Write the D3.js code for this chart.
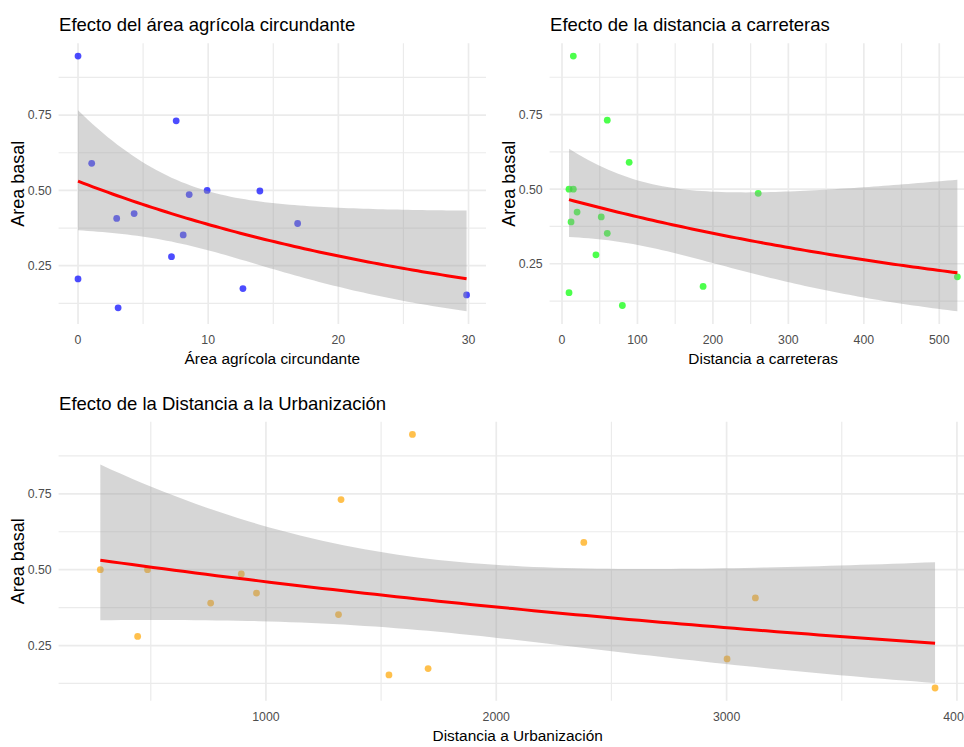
<!DOCTYPE html>
<html>
<head>
<meta charset="utf-8">
<script src="https://cdn.jsdelivr.net/npm/d3@7"></script>
<style>
  html, body { margin: 0; padding: 0; background: #fff; }
  svg { display: block; font-family: "Liberation Sans", Arial, sans-serif; }
</style>
</head>
<body>
<svg id="chart" width="964" height="747"></svg>
<script>
// Área basal by site, paired with each explanatory variable
const agricolaX = [0, 7.54, 1.05, 9.92, 13.97, 8.54, 4.31, 2.97, 16.87, 8.08, 7.18, 0, 12.67, 29.85, 3.08];
const agricolaY = [0.946, 0.731, 0.59, 0.50, 0.498, 0.486, 0.423, 0.407, 0.39, 0.352, 0.28, 0.206, 0.174, 0.153, 0.11];

const carreterasX = [15, 60, 89, 9.3, 15, 260, 20, 52, 12, 60, 45, 524, 9.3, 187, 80];
const carreterasY = [0.946, 0.731, 0.59, 0.50, 0.50, 0.486, 0.423, 0.407, 0.39, 0.352, 0.28, 0.206, 0.153, 0.174, 0.11];

const urbanX = [281, 486, 443, 760, 893, 959, 1326, 1315, 1636, 1534, 1704, 2380, 3125, 3002, 3905];
const urbanY = [0.50, 0.50, 0.28, 0.39, 0.486, 0.423, 0.731, 0.352, 0.946, 0.153, 0.174, 0.59, 0.407, 0.206, 0.11];

const xTicksAgricola = [0, 10, 20, 30];
const xTicksCarreteras = [0, 100, 200, 300, 400, 500];
const xTicksUrban = [1000, 2000, 3000, 4000];
const yTicks = [0.25, 0.50, 0.75];

const titles = ["Efecto del área agrícola circundante", "Efecto de la distancia a carreteras", "Efecto de la Distancia a la Urbanización"];
const xTitles = ["Área agrícola circundante", "Distancia a carreteras", "Distancia a Urbanización"];
const yTitle = "Area basal";

// Gamma GLM with log link, fitted by iteratively reweighted least squares;
// returns a predictor giving the mean and its 95% band on the response scale
function fitGammaLog(xs, ys) {
  const n = xs.length;
  let b0 = Math.log(d3.mean(ys)), b1 = 0;
  for (let it = 0; it < 100; it++) {
    let Sw = 0, Swx = 0, Swxx = 0, Swz = 0, Swxz = 0;
    for (let i = 0; i < n; i++) {
      const eta = b0 + b1 * xs[i], mu = Math.exp(eta);
      const z = eta + (ys[i] - mu) / mu;
      Sw += 1; Swx += xs[i]; Swxx += xs[i] * xs[i]; Swz += z; Swxz += xs[i] * z;
    }
    const det = Sw * Swxx - Swx * Swx;
    b0 = (Swxx * Swz - Swx * Swxz) / det;
    b1 = (Sw * Swxz - Swx * Swz) / det;
  }
  let Sx = 0, Sxx = 0, chi = 0;
  for (let i = 0; i < n; i++) {
    const mu = Math.exp(b0 + b1 * xs[i]);
    Sx += xs[i]; Sxx += xs[i] * xs[i];
    chi += ((ys[i] - mu) / mu) ** 2;
  }
  const phi = chi / (n - 2);
  const det = n * Sxx - Sx * Sx;
  const c00 = phi * Sxx / det, c01 = -phi * Sx / det, c11 = phi * n / det;
  const z = 1.959964;
  return x => {
    const eta = b0 + b1 * x;
    const se = Math.sqrt(c00 + 2 * x * c01 + x * x * c11);
    return { x, y: Math.exp(eta), ymin: Math.exp(eta - z * se), ymax: Math.exp(eta + z * se) };
  };
}

const svg = d3.select("#chart");
const yMinor = [0.125, 0.375, 0.625, 0.875];

function drawPanel(cfg) {
  const { xs, ys, left, right, top, bottom, xTicks, xMinor, title, xTitle, yTitleX, color } = cfg;
  const model = fitGammaLog(xs, ys);
  const [xmin, xmax] = d3.extent(xs);
  const smooth = d3.range(80).map(i => model(xmin + (xmax - xmin) * i / 79));

  const xr = xmax - xmin;
  const x = d3.scaleLinear().domain([xmin - 0.05 * xr, xmax + 0.05 * xr]).range([left, right]);
  const lo = Math.min(d3.min(ys), d3.min(smooth, d => d.ymin));
  const hi = Math.max(d3.max(ys), d3.max(smooth, d => d.ymax));
  const yr = hi - lo;
  const y = d3.scaleLinear().domain([lo - 0.05 * yr, hi + 0.05 * yr]).range([bottom, top]);

  const g = svg.append("g");

  // grid: minor then major
  g.selectAll(null).data(yMinor).join("line")
    .attr("x1", left).attr("x2", right).attr("y1", d => y(d)).attr("y2", d => y(d))
    .attr("stroke", "#ebebeb").attr("stroke-width", 1.2);
  g.selectAll(null).data(xMinor).join("line")
    .attr("y1", top).attr("y2", bottom).attr("x1", d => x(d)).attr("x2", d => x(d))
    .attr("stroke", "#ebebeb").attr("stroke-width", 1.2);
  g.selectAll(null).data(yTicks).join("line")
    .attr("x1", left).attr("x2", right).attr("y1", d => y(d)).attr("y2", d => y(d))
    .attr("stroke", "#ebebeb").attr("stroke-width", 1.7);
  g.selectAll(null).data(xTicks).join("line")
    .attr("y1", top).attr("y2", bottom).attr("x1", d => x(d)).attr("x2", d => x(d))
    .attr("stroke", "#ebebeb").attr("stroke-width", 1.7);

  // observed sites
  g.selectAll(null).data(xs.map((v, i) => [v, ys[i]])).join("circle")
    .attr("cx", d => x(d[0])).attr("cy", d => y(d[1])).attr("r", 3.4)
    .attr("fill", color).attr("fill-opacity", 0.7);

  // confidence ribbon and fitted curve
  g.append("path").datum(smooth)
    .attr("d", d3.area().x(d => x(d.x)).y0(d => y(d.ymin)).y1(d => y(d.ymax)))
    .attr("fill", "#999999").attr("fill-opacity", 0.4);
  g.append("path").datum(smooth)
    .attr("d", d3.line().x(d => x(d.x)).y(d => y(d.y)))
    .attr("fill", "none").attr("stroke", "#ff0000").attr("stroke-width", 3);

  // tick labels
  g.selectAll(null).data(xTicks).join("text")
    .attr("x", d => x(d)).attr("y", bottom + 20).attr("text-anchor", "middle")
    .attr("font-size", 12.3).attr("fill", "#4d4d4d").text(d => d);
  g.selectAll(null).data(yTicks).join("text")
    .attr("x", left - 7).attr("y", d => y(d) + 4.4).attr("text-anchor", "end")
    .attr("font-size", 12.3).attr("fill", "#4d4d4d").text(d => d3.format(".2f")(d));

  // titles
  g.append("text").attr("x", left + 0.5).attr("y", top - 12)
    .attr("font-size", 18.5).attr("fill", "#000").text(title);
  g.append("text").attr("x", (left + right) / 2).attr("y", bottom + 40).attr("text-anchor", "middle")
    .attr("font-size", 15.4).attr("fill", "#000").text(xTitle);
  g.append("text").attr("transform", `translate(${yTitleX},${(top + bottom) / 2}) rotate(-90)`)
    .attr("text-anchor", "middle").attr("font-size", 18).attr("fill", "#000").text(yTitle);
}

drawPanel({ xs: agricolaX, ys: agricolaY, left: 58.6, right: 486, top: 43.3, bottom: 324, yTitleX: 24,
  xTicks: xTicksAgricola, xMinor: [5, 15, 25], title: titles[0], xTitle: xTitles[0], color: "#0000ff" });
drawPanel({ xs: carreterasX, ys: carreterasY, left: 549.6, right: 976.8, top: 43.3, bottom: 324, yTitleX: 515,
  xTicks: xTicksCarreteras, xMinor: [50, 150, 250, 350, 450], title: titles[1], xTitle: xTitles[1], color: "#00ff00" });
drawPanel({ xs: urbanX, ys: urbanY, left: 58.6, right: 976.8, top: 421.7, bottom: 700.7, yTitleX: 24,
  xTicks: xTicksUrban, xMinor: [500, 1500, 2500, 3500], title: titles[2], xTitle: xTitles[2], color: "#ffa500" });
</script>
</body>
</html>
